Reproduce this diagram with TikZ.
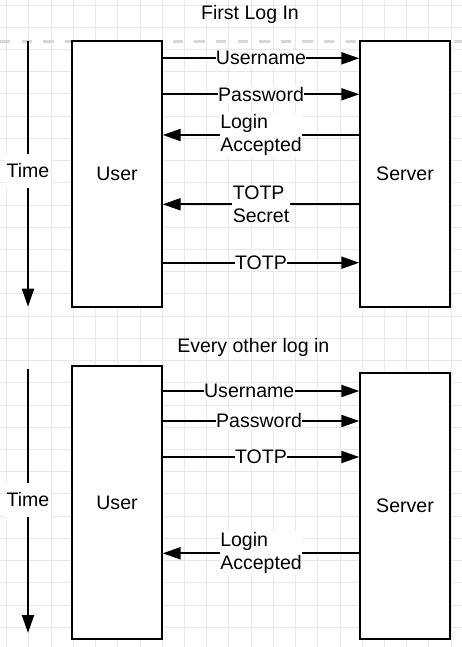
\documentclass[tikz,border=0pt]{standalone}
\usepackage{fontspec}
\setmainfont{Liberation Sans}
\usetikzlibrary{arrows.meta}
\definecolor{gridgray}{HTML}{E8E8E8}
\definecolor{dashgray}{HTML}{D6D6D6}
\newcommand{\diagfont}{\fontsize{13.9}{16.4}\selectfont}
\tikzset{
  gridline/.style={gridgray,line width=0.22mm},
  dashline/.style={dashgray,line width=0.75mm,dash pattern=on 2.6mm off 2.8mm},
  lifebox/.style={draw,line width=0.5mm,fill=white,minimum width=22.35mm,inner sep=0pt,font=\diagfont},
  msgarrow/.style={-{Triangle[length=4.5mm,width=3mm]},line width=0.5mm},
  msglabel/.style={pos=0.5,fill=white,inner xsep=0.3pt,inner ysep=1pt,align=left,font=\diagfont},
  timelabel/.style={fill=white,inner xsep=1pt,inner ysep=7pt,font=\diagfont},
  titlelabel/.style={inner sep=1pt,font=\diagfont}
}

\begin{document}
\begin{tikzpicture}[x=0.25mm,y=-0.25mm]
\useasboundingbox (0,0) rectangle (462,647);
% background grid
\foreach \i in {0,...,20}{\draw[gridline] ({6.67+22.22*\i},0)--++(0,647);}
\foreach \j in {0,...,29}{\draw[gridline] (0,{5+22.22*\j})--++(462,0);}
\draw[dashline] (0,41.3)--(462,41.3);

% first log in
\node[titlelabel] (title1) at (250,14.5) {First Log In};
\node[lifebox,minimum height=66.35mm] (user1) at (117,174) {User};
\node[lifebox,minimum height=66.35mm] (server1) at (405,174) {Server};
\coordinate (time1top) at (28,41.3);
\coordinate (time1tip) at (28,306.7);
\draw[msgarrow] (time1top)--(time1tip) node[timelabel,pos=0.487]{Time};
\draw[msgarrow] (user1.east |- 0,58.3)--(server1.west |- 0,58.3) node[msglabel]{Username};
\draw[msgarrow] (user1.east |- 0,94.3)--(server1.west |- 0,94.3) node[msglabel]{Password};
\draw[msgarrow] (server1.west |- 0,135)--(user1.east |- 0,135) node[msglabel]{Login\\Accepted};
\draw[msgarrow] (server1.west |- 0,204.3)--(user1.east |- 0,204.3) node[msglabel]{TOTP\\Secret};
\draw[msgarrow] (user1.east |- 0,262.7)--(server1.west |- 0,262.7) node[msglabel]{TOTP};

% every other log in
\node[titlelabel] (title2) at (253.3,347) {Every other log in};
\node[lifebox,minimum height=68.3mm] (user2) at (117,502.4) {User};
\node[lifebox,minimum height=66.6mm] (server2) at (405,505.9) {Server};
\coordinate (time2top) at (28,369);
\coordinate (time2tip) at (28,633);
\draw[msgarrow] (time2top)--(time2tip) node[timelabel,pos=0.496]{Time};
\draw[msgarrow] (user2.east |- 0,391)--(server2.west |- 0,391) node[msglabel,pos=0.44]{Username};
\draw[msgarrow] (user2.east |- 0,421)--(server2.west |- 0,421) node[msglabel,pos=0.49]{Password};
\draw[msgarrow] (user2.east |- 0,457)--(server2.west |- 0,457) node[msglabel]{TOTP};
\draw[msgarrow] (server2.west |- 0,553.3)--(user2.east |- 0,553.3) node[msglabel]{Login\\Accepted};
\end{tikzpicture}
\end{document}
